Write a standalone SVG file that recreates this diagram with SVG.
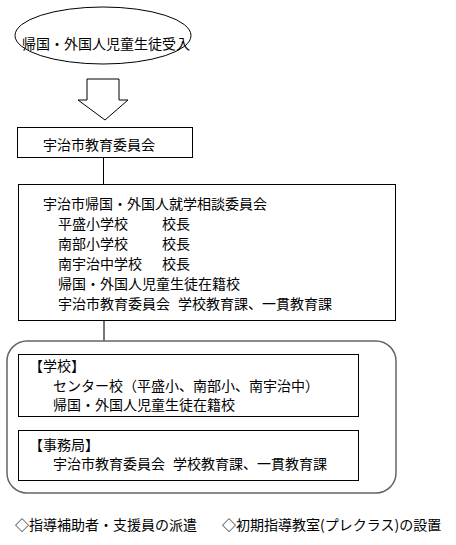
<svg xmlns="http://www.w3.org/2000/svg" width="456" height="545" viewBox="0 0 456 545">
<style>
text{font-family:"Noto Sans CJK JP","Noto Sans CJK SC",sans-serif;font-size:14px;fill:#000}
.box{fill:#fff;stroke:#000;stroke-width:1}
.grey{fill:none;stroke:#666;stroke-width:1.5}
.line{stroke:#000;stroke-width:1;fill:none}
</style>
<rect width="456" height="545" fill="#fff"/>
<g id="connectors">
<polygon points="87,79 119,79 119,100 128,100 105,120 78,100 87,100" fill="#fff" stroke="#000" stroke-width="1"/>
<line class="line" x1="103.5" y1="157" x2="103.5" y2="184"/>
<line x1="104" y1="321" x2="104" y2="341" stroke="#777" stroke-width="2"/>
</g>
<g id="start">
<ellipse cx="103" cy="35.5" rx="88" ry="28.5" class="box"/>
<text x="22" y="49">帰国・外国人児童生徒受入</text>
</g>
<g id="board">
<rect x="17.5" y="127.5" width="175" height="30" class="box"/>
<text x="43" y="150">宇治市教育委員会</text>
</g>
<g id="committee">
<rect x="18.5" y="184.5" width="377" height="136" class="box"/>
<text x="43" y="209">宇治市帰国・外国人就学相談委員会</text>
<text x="58" y="229">平盛小学校<tspan x="162">校長</tspan></text>
<text x="58" y="249">南部小学校<tspan x="162">校長</tspan></text>
<text x="58" y="269">南宇治中学校<tspan x="162">校長</tspan></text>
<text x="58" y="289">帰国・外国人児童生徒在籍校</text>
<text x="58" y="309">宇治市教育委員会<tspan x="178">学校教育課、一貫教育課</tspan></text>
</g>
<g id="support">
<rect x="7" y="341" width="389" height="152" rx="20" ry="20" class="grey"/>
</g>
<g id="schools">
<rect x="18.5" y="354.5" width="340" height="62" class="box"/>
<text x="29" y="371">【学校】</text>
<text x="53" y="391">センター校（平盛小、南部小、南宇治中）</text>
<text x="53" y="410">帰国・外国人児童生徒在籍校</text>
</g>
<g id="office">
<rect x="18.5" y="430.5" width="340" height="50" class="box"/>
<text x="29" y="450">【事務局】</text>
<text x="53" y="469">宇治市教育委員会<tspan x="173">学校教育課、一貫教育課</tspan></text>
</g>
<g id="notes">
<text x="15" y="530">◇指導補助者・支援員の派遣</text>
<text x="222" y="530">◇初期指導教室(プレクラス)の設置</text>
</g>
</svg>
